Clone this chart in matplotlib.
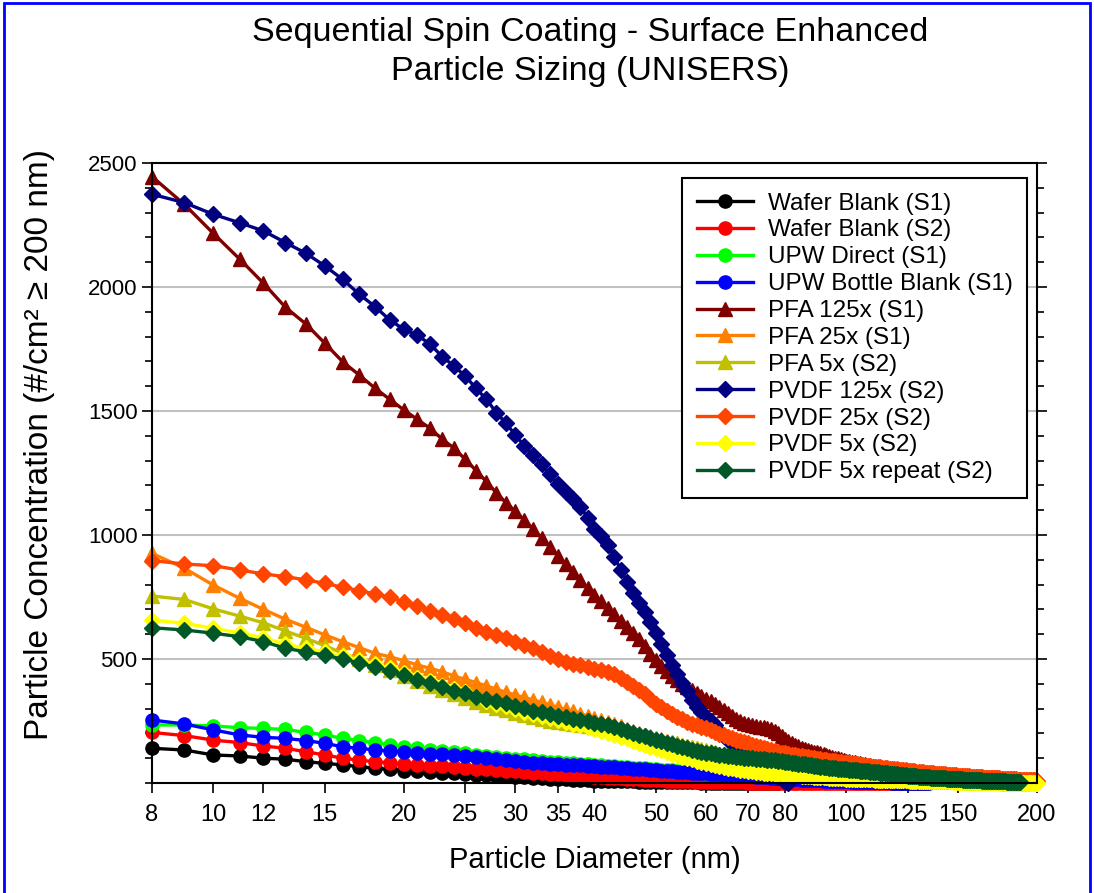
import matplotlib
matplotlib.use("Agg")
import matplotlib.pyplot as plt
from matplotlib.patches import Rectangle
from matplotlib.ticker import FixedLocator, NullFormatter, MultipleLocator

plt.rcParams['font.family'] = ['Liberation Sans', 'DejaVu Sans']

# particle diameter bins (nm), one per integer
diam = list(range(8, 201))
xticks = [8, 10, 12, 15, 20, 25, 30, 35, 40, 50, 60, 70, 80, 100, 125, 150, 200]

# each series starts at 8 nm, one value per nm, until its last bin
wafer_s1 = [140, 133,
            113, 109, 100, 96, 86, 79, 73, 66, 59, 55,
            50, 47, 44, 41, 39, 37, 34, 32, 30, 27,
            25, 23, 21, 20, 18, 16, 15, 14, 12, 11,
            10, 9, 9, 8, 8, 7, 7, 6, 6, 5,
            5, 5, 4, 4, 4, 3, 3, 3, 3, 2,
            2, 2, 2, 2, 1, 1, 1, 1, 1, 1,
            1, 1, 1, 0, 0, 0, 0, 0, 0]
wafer_s2 = [204, 191,
            173, 163, 149, 140, 126, 113, 100, 92, 86, 82,
            77, 74, 70, 67, 64, 61, 58, 55, 52, 50,
            47, 45, 42, 40, 37, 35, 33, 31, 29, 27,
            25, 24, 22, 21, 19, 18, 17, 15, 14, 13,
            12, 11, 10, 10, 9, 8, 8, 7, 6, 6,
            5, 5, 5, 4, 4, 4, 3, 3, 3, 3,
            2, 2, 2, 2, 2, 2, 2, 1, 1, 1,
            1, 1, 1, 1, 1, 1, 1, 1, 1, 1,
            1, 1, 1, 1, 1, 0, 0, 0, 0, 0,
            0, 0, 0, 0, 0, 0, 0, 0, 0, 0,
            0, 0, 0, 0, 0, 0, 0, 0, 0, 0,
            0, 0, 0, 0, 0, 0, 0, 0, 0, 0, 0]
upw_direct = [234, 234,
              230, 223, 220, 216, 204, 194, 180, 171, 163, 153,
              146, 140, 134, 129, 124, 119, 114, 110, 106, 102,
              98, 95, 92, 89, 86, 84, 82, 80, 78, 76,
              74, 72, 70, 68, 66, 64, 62, 61, 59, 57,
              56, 54, 53, 51, 50, 48, 47, 46, 44, 43,
              42, 41, 40, 39, 37, 36, 35, 34, 33, 32,
              32, 31, 30, 29, 28, 27, 27, 26, 25, 24,
              24, 23, 22, 22, 21, 20, 20, 19, 19, 18,
              18, 17, 17, 16, 16, 15, 15, 14, 14, 13,
              13, 13, 12, 12, 12, 11, 11, 11, 10, 10,
              10, 9, 9, 9, 9, 8, 8, 8, 8, 7,
              7, 7, 7, 7, 6, 6, 6, 6, 6, 5,
              5, 5, 5, 5, 5, 5, 4, 4, 4, 4,
              4, 4, 4, 4, 3, 3, 3, 3, 3, 3,
              3, 3, 3, 3, 2, 2, 2, 2, 2, 2,
              2, 2, 1, 1, 1, 1, 1, 1, 1, 1, 0]
upw_bottle = [254, 238,
              214, 194, 184, 180, 171, 160, 146, 140, 133, 130,
              126, 121, 118, 115, 112, 108, 104, 100, 96, 92,
              88, 84, 81, 79, 77, 75, 74, 73, 71, 69,
              67, 66, 64, 63, 61, 59, 58, 56, 55, 53,
              51, 50, 49, 47, 46, 45, 44, 42, 41, 40,
              39, 38, 37, 36, 34, 33, 32, 31, 30, 29,
              28, 27, 26, 25, 24, 23, 22, 21, 20, 19,
              18, 17, 17, 16, 15, 14, 14, 13, 12, 12,
              11, 11, 10, 10, 9, 9, 8, 8, 8, 7,
              7, 7, 6, 6, 6, 5, 5, 5, 5, 4,
              4, 4, 4, 3, 3, 3, 3, 3, 2, 2,
              2, 2, 2, 2, 1, 1, 1, 1, 1, 1,
              1, 0, 0, 0, 0, 0]
pfa_125 = [2445, 2333,
           2216, 2113, 2015, 1918, 1851, 1773, 1699, 1645, 1592, 1547,
           1504, 1466, 1430, 1386, 1350, 1305, 1260, 1215, 1170, 1130,
           1095, 1060, 1025, 988, 952, 917, 883, 850, 818, 788,
           760, 732, 705, 680, 655, 630, 605, 580, 552, 522,
           495, 470, 450, 432, 416, 401, 387, 375, 363, 351,
           340, 329, 317, 305, 294, 283, 271, 260, 250, 242,
           236, 232, 229, 226, 224, 221, 216, 209, 200, 190,
           179, 169, 161, 154, 148, 143, 139, 135, 131, 127,
           123, 119, 115, 111, 108, 105, 102, 99, 96, 93,
           90, 87, 85, 83, 81, 79, 77, 75, 73, 71,
           69, 67, 65, 63, 61, 60, 58, 56, 55, 53,
           52, 50, 49, 48, 46, 45, 44, 43, 41, 40,
           39, 38, 37, 36, 35, 34, 33, 32, 31, 30,
           29, 28, 27, 27, 26, 25, 24, 23, 23, 22,
           21, 21, 20, 19, 19, 18, 17, 17, 16, 16,
           15, 15, 14, 14, 13, 13, 12, 12, 11, 11,
           10, 10, 9, 9, 9, 8, 8, 7, 7, 7,
           6, 6, 5, 5, 5, 4, 4, 3, 3, 2, 2]
pfa_25 = [926, 866,
          798, 745, 700, 660, 628, 597, 570, 546, 523, 509,
          493, 476, 462, 449, 431, 418, 405, 392, 378, 366,
          355, 345, 335, 325, 315, 305, 297, 289, 280, 271,
          262, 254, 245, 236, 228, 219, 210, 202, 195, 188,
          182, 176, 170, 165, 160, 155, 150, 145, 140, 134,
          128, 124, 120, 116, 112, 108, 104, 101, 98, 95,
          92, 90, 88, 85, 83, 81, 79, 77, 75, 73,
          70, 68, 67, 65, 63, 62, 60, 59, 57, 56,
          55, 53, 52, 51, 49, 48, 47, 46, 44, 43,
          42, 41, 40, 39, 38, 37, 36, 35, 34, 33,
          32, 32, 31, 30, 29, 29, 28, 27, 26, 26,
          25, 24, 24, 23, 22, 22, 21, 21, 20, 20,
          19, 19, 18, 18, 17, 17, 16, 16, 15, 15,
          15, 14, 14, 13, 13, 13, 12, 12, 12, 11,
          11, 11, 10, 10, 10, 9, 9, 9, 9, 8,
          8, 8, 8, 7, 7, 7, 7, 6, 6, 6,
          6, 5, 5, 5, 5, 5, 4, 4, 4, 4,
          4, 3, 3, 3, 3, 3, 2, 2, 2, 2, 2]
pfa_5 = [754, 740,
         702, 673, 646, 613, 583, 554, 523, 499, 476, 455,
         433, 412, 393, 375, 358, 342, 328, 315, 303, 293,
         283, 274, 266, 259, 252, 246, 241, 236, 232, 228,
         224, 220, 216, 212, 208, 204, 200, 195, 190, 185,
         180, 175, 170, 165, 160, 155, 150, 146, 141, 137,
         132, 128, 123, 118, 114, 109, 105, 102, 98, 95,
         92, 90, 87, 85, 82, 80, 78, 76, 74, 72,
         70, 68, 67, 65, 63, 62, 60, 59, 57, 56,
         55, 53, 52, 50, 49, 48, 46, 45, 44, 43,
         42, 40, 39, 38, 37, 36, 35, 34, 33, 32,
         31, 30, 29, 28, 28, 27, 26, 25, 25, 24,
         23, 22, 22, 21, 20, 20, 19, 19, 18, 17,
         17, 16, 16, 15, 15, 14, 14, 13, 13, 13,
         12, 12, 11, 11, 11, 10, 10, 10, 9, 9,
         9, 8, 8, 8, 8, 7, 7, 7, 6, 6,
         6, 6, 5, 5, 5, 5, 5, 4, 4, 4,
         4, 4, 3, 3, 3, 3, 3, 3, 2, 2,
         2, 2, 2, 2, 2, 1, 1, 1, 1, 1, 1]
pvdf_125 = [2374, 2340,
            2293, 2259, 2226, 2179, 2136, 2085, 2031, 1971, 1921, 1867,
            1829, 1806, 1769, 1719, 1681, 1641, 1591, 1547, 1493, 1450,
            1403, 1359, 1323, 1285, 1245, 1205, 1175, 1145, 1114, 1070,
            1025, 995, 960, 910, 860, 810, 765, 725, 690, 650,
            605, 560, 515, 475, 440, 405, 370, 335, 305, 285,
            265, 250, 232, 205, 190, 175, 160, 145, 130, 118,
            105, 95, 85, 75, 65, 55, 45, 35, 25, 15,
            5, 0]
pvdf_25 = [897, 883,
           876, 859, 843, 832, 819, 805, 789, 776, 762, 749,
           731, 714, 695, 677, 660, 644, 624, 610, 597, 586,
           570, 556, 543, 528, 512, 498, 488, 480, 474, 467,
           460, 454, 448, 441, 425, 407, 390, 375, 360, 340,
           320, 305, 292, 280, 268, 257, 247, 239, 232, 226,
           220, 213, 206, 199, 193, 187, 181, 175, 170, 165,
           160, 155, 150, 146, 142, 138, 134, 130, 126, 122,
           119, 116, 114, 112, 110, 108, 106, 104, 102, 100,
           98, 96, 94, 92, 90, 88, 87, 85, 84, 82,
           81, 79, 78, 76, 75, 73, 72, 70, 69, 68,
           66, 65, 64, 63, 62, 60, 59, 58, 57, 56,
           55, 54, 53, 52, 51, 50, 49, 48, 47, 46,
           45, 44, 43, 42, 42, 41, 40, 39, 38, 38,
           37, 36, 36, 35, 34, 34, 33, 32, 32, 31,
           30, 30, 29, 29, 28, 27, 27, 26, 26, 25,
           25, 24, 24, 23, 23, 22, 22, 21, 21, 21,
           20, 20, 19, 19, 19, 18, 18, 17, 17, 17,
           16, 16, 16, 15, 15, 15, 14, 14, 14, 13,
           13, 13, 13, 12, 12, 12, 11, 11, 11, 11, 10]
pvdf_5 = [657, 644,
          624, 605, 585, 560, 543, 528, 511, 496, 478, 463,
          445, 425, 410, 393, 378, 366, 348, 332, 320, 310,
          297, 287, 278, 270, 262, 255, 247, 239, 232, 225,
          218, 210, 203, 195, 187, 180, 171, 162, 155, 147,
          140, 132, 125, 118, 111, 105, 100, 95, 90, 85,
          80, 76, 72, 69, 65, 62, 59, 56, 54, 52,
          50, 48, 46, 44, 42, 41, 39, 38, 37, 36,
          35, 34, 33, 32, 31, 30, 29, 28, 27, 26,
          25, 24, 24, 23, 22, 21, 21, 20, 19, 19,
          18, 18, 17, 17, 17, 16, 16, 16, 15, 15,
          15, 14, 14, 14, 14, 13, 13, 13, 12, 12,
          12, 12, 11, 11, 11, 11, 10, 10, 10, 10,
          10, 9, 9, 9, 9, 9, 8, 8, 8, 8,
          8, 8, 7, 7, 7, 7, 7, 7, 6, 6,
          6, 6, 6, 6, 6, 5, 5, 5, 5, 5,
          5, 5, 4, 4, 4, 4, 4, 4, 4, 4,
          3, 3, 3, 3, 3, 3, 3, 3, 2, 2,
          2, 2, 2, 2, 2, 2, 1, 1, 1, 1,
          1, 1, 1, 1, 1, 1, 0, 0, 0, 0, 0]
pvdf_5_rep = [626, 617,
              604, 590, 570, 543, 529, 516, 499, 485, 467, 453,
              435, 415, 402, 386, 372, 364, 348, 337, 331, 324,
              310, 301, 292, 285, 278, 272, 266, 260, 254, 248,
              242, 237, 232, 226, 219, 211, 203, 195, 188, 181,
              175, 169, 163, 157, 151, 145, 140, 135, 130, 126,
              122, 119, 116, 113, 111, 109, 107, 105, 104, 102,
              101, 99, 98, 96, 95, 94, 92, 91, 89, 88,
              86, 84, 82, 80, 78, 77, 75, 73, 71, 69,
              67, 66, 64, 63, 62, 60, 59, 58, 57, 56,
              55, 54, 53, 52, 51, 50, 49, 48, 47, 46,
              45, 44, 43, 42, 41, 40, 39, 38, 37, 36,
              35, 34, 33, 32, 31, 30, 29, 28, 28, 27,
              26, 26, 25, 24, 24, 23, 22, 22, 21, 21,
              20, 20, 19, 19, 18, 18, 17, 17, 16, 16,
              15, 15, 15, 14, 14, 13, 13, 13, 12, 12,
              12, 11, 11, 11, 10, 10, 10, 9, 9, 9,
              9, 8, 8, 8, 8, 7, 7, 7, 7, 6,
              6, 6, 6, 6, 5, 5, 5, 5, 5]

series = [
    ("Wafer Blank (S1)", wafer_s1, "#000000", "o"),
    ("Wafer Blank (S2)", wafer_s2, "#FF0000", "o"),
    ("UPW Direct (S1)", upw_direct, "#00FF00", "o"),
    ("UPW Bottle Blank (S1)", upw_bottle, "#0000FF", "o"),
    ("PFA 125x (S1)", pfa_125, "#800000", "^"),
    ("PFA 25x (S1)", pfa_25, "#FF8000", "^"),
    ("PFA 5x (S2)", pfa_5, "#C0C000", "^"),
    ("PVDF 125x (S2)", pvdf_125, "#000080", "D"),
    ("PVDF 25x (S2)", pvdf_25, "#FF4500", "D"),
    ("PVDF 5x (S2)", pvdf_5, "#FFFF00", "D"),
    ("PVDF 5x repeat (S2)", pvdf_5_rep, "#005828", "D"),
]
msize = {"o": 9.5, "^": 10, "D": 7.8}

fig = plt.figure(figsize=(10.94, 8.93), dpi=100)
ax = fig.add_axes([152/1094, 1-783/893, (1037-152)/1094, (783-163)/893])

for name, vals, col, mk in series:
    ax.plot(diam[:len(vals)], vals, color=col, marker=mk, markersize=msize[mk],
            markeredgecolor=col, linewidth=2.4, label=name, clip_on=False)

ax.set_xscale("log")
ax.set_xlim(8, 200)
ax.set_ylim(0, 2500)
ax.xaxis.set_major_locator(FixedLocator(xticks))
ax.xaxis.set_minor_locator(FixedLocator([]))
ax.xaxis.set_minor_formatter(NullFormatter())
ax.set_xticklabels([str(t) for t in xticks])
ax.set_yticks([500, 1000, 1500, 2000, 2500])
ax.yaxis.set_minor_locator(MultipleLocator(100))
ax.tick_params(axis="both", which="major", labelsize=16, direction="out", length=7, width=1.2)
ax.tick_params(axis="x", labelsize=17, pad=8)
ax.tick_params(axis="y", which="both", right=True)
ax.tick_params(axis="y", which="minor", direction="out", length=5, width=1.2)
ax.grid(axis="y", which="major", color="#C0C0C0", linewidth=1.5)
ax.set_axisbelow(True)
for sp in ax.spines.values():
    sp.set_linewidth(1.5)

ax.set_xlabel("Particle Diameter (nm)", fontsize=21, va="center")
ax.xaxis.set_label_coords(0.5, (783-860)/620)
ax.set_ylabel("Particle Concentration (#/cm² ≥ 200 nm)", fontsize=24, va="center")
ax.yaxis.set_label_coords((40-152)/885, (783-445)/620)

fig.text(590/1094, 1-52/893, "Sequential Spin Coating - Surface Enhanced\nParticle Sizing (UNISERS)",
         ha="center", va="center", fontsize=24.5, linespacing=1.35)

leg = ax.legend(loc="upper right", bbox_to_anchor=(0.9887, 0.9758), borderaxespad=0,
                fontsize=17.5, fancybox=False, framealpha=1, edgecolor="black",
                labelspacing=0.2, handlelength=2.3, handletextpad=0.6, borderpad=0.6)
leg.get_frame().set_linewidth(1.5)

fig.patches.append(Rectangle((4/1094, -0.02), 1086/1094, 1.02-3/893, transform=fig.transFigure,
                             fill=False, edgecolor="#0000FF", linewidth=2))

fig.savefig("out.png", dpi=100)
